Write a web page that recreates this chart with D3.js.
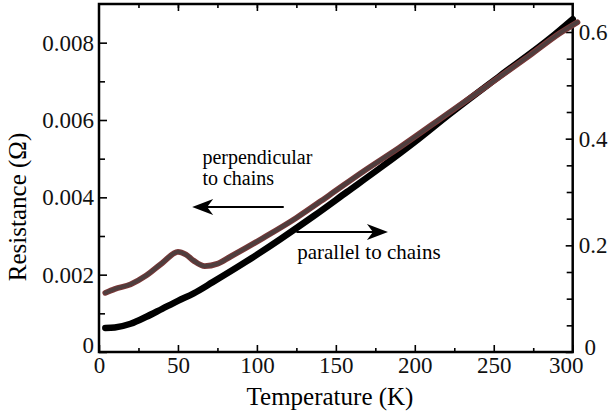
<!DOCTYPE html>
<html>
<head>
<meta charset="utf-8">
<script src="https://cdn.jsdelivr.net/npm/d3@7"></script>
<style>
  body { margin: 0; background: #fff; }
  svg { display: block; }
</style>
</head>
<body>
<div id="chart"></div>
<script>
// perpendicular to chains -> left axis (Ohm)
const tempPerp = [4, 10, 20, 30, 40, 50, 55, 60, 67, 75, 83, 104, 125, 146, 167, 190, 222, 244, 273, 292, 303];
const resPerp = [0.00153, 0.00163, 0.00175, 0.00198, 0.0023, 0.00259, 0.00252, 0.00236, 0.00222, 0.00228, 0.00246,
  0.00295, 0.00347, 0.00406, 0.00466, 0.00528, 0.0062, 0.00683, 0.00768, 0.00825, 0.00853];

// parallel to chains -> right axis
const tempPar = [4, 10, 20, 30, 40, 50, 60, 72, 94, 115, 136, 157, 178, 200, 222, 254, 286, 300];
const resPar = [0.045, 0.046, 0.053, 0.066, 0.081, 0.096, 0.110, 0.131, 0.171, 0.212, 0.255, 0.300, 0.345, 0.394,
  0.446, 0.518, 0.589, 0.624];

const xTicks = [0, 50, 100, 150, 200, 250, 300];
const leftTicks = [0, 0.002, 0.004, 0.006, 0.008];
const rightTicks = [0, 0.2, 0.4, 0.6];

var font = "'Liberation Serif', 'Times New Roman', serif";
var width = 610, height = 414;
var svg = d3.select("#chart").append("svg")
  .attr("width", width)
  .attr("height", height)
  .attr("font-family", font);

var x = d3.scaleLinear().domain([0, 300]).range([99, 572.7]);
var yL = d3.scaleLinear().domain([0, 0.009]).range([352, 4]);
var yR = d3.scaleLinear().domain([0, 0.6]).range([352, 32]);

// minor ticks first (no labels)
svg.append("g").attr("transform", "translate(0,352)")
  .call(d3.axisBottom(x).tickValues(d3.range(25, 300, 50)).tickSizeInner(-4).tickSizeOuter(0).tickFormat(""));
svg.append("g").attr("transform", "translate(0,4)")
  .call(d3.axisTop(x).tickValues(d3.range(25, 300, 25)).tickSizeInner(-4).tickSizeOuter(0).tickFormat(""));
svg.append("g").attr("transform", "translate(0,4)")
  .call(d3.axisTop(x).tickValues(d3.range(50, 300, 50)).tickSizeInner(-7).tickSizeOuter(0).tickFormat(""));
svg.append("g").attr("transform", "translate(99,0)")
  .call(d3.axisLeft(yL).tickValues(d3.range(0.001, 0.009, 0.002)).tickSizeInner(-6).tickSizeOuter(0).tickFormat(""));
svg.append("g").attr("transform", "translate(572.7,0)")
  .call(d3.axisRight(yR).tickValues([0.05, 0.1, 0.15, 0.25, 0.3, 0.35, 0.45, 0.5, 0.55]).tickSizeInner(-6).tickSizeOuter(0).tickFormat(""));

// bottom axis
var xAxis = svg.append("g").attr("transform", "translate(0,352)")
  .call(d3.axisBottom(x).tickValues(xTicks).tickSizeInner(-7).tickSizeOuter(0).tickPadding(5));
xAxis.selectAll("text").style("font-size", "23px")
  .attr("dx", d => d === 300 ? "-0.3em" : 0);

// left axis
var yAxisL = svg.append("g").attr("transform", "translate(99,0)")
  .call(d3.axisLeft(yL).tickValues(leftTicks).tickSizeInner(-8).tickSizeOuter(0).tickPadding(5)
    .tickFormat(d => d === 0 ? "0" : d.toFixed(3)));
yAxisL.selectAll("text").style("font-size", "23px")
  .attr("dy", d => d === 0 ? "0.02em" : "0.32em");

// right axis
var yAxisR = svg.append("g").attr("transform", "translate(572.7,0)")
  .call(d3.axisRight(yR).tickValues(rightTicks).tickSizeInner(-7).tickSizeOuter(0).tickPadding(6)
    .tickFormat(d => d === 0 ? "0" : d.toFixed(1)));
yAxisR.selectAll("text").style("font-size", "23px")
  .attr("dx", d => d === 0 ? "0.25em" : 0)
  .attr("dy", d => d === 0 ? "0.1em" : "0.32em");

svg.selectAll(".domain").remove();
svg.selectAll(".tick line").attr("stroke", "#000").attr("stroke-width", 1.6);
svg.selectAll("g").attr("font-family", font);
svg.selectAll(".tick text").attr("fill", "#111");

// frame
svg.append("rect")
  .attr("x", x(0)).attr("y", yL.range()[1])
  .attr("width", x(300) - x(0)).attr("height", yL.range()[0] - yL.range()[1])
  .attr("fill", "none").attr("stroke", "#000").attr("stroke-width", 2.5);

// axis titles
svg.append("text")
  .attr("x", 330).attr("y", 405)
  .attr("font-family", font)
  .style("text-anchor", "middle").style("font-size", "25px")
  .text("Temperature (K)");
svg.append("text")
  .attr("transform", "translate(26,207) rotate(-90)")
  .attr("font-family", font)
  .style("text-anchor", "middle").style("font-size", "25px")
  .text("Resistance (\u03A9)");

// curves
var linePar = d3.line()
  .x((d, i) => x(tempPar[i]))
  .y(d => yR(d))
  .curve(d3.curveMonotoneX);
var linePerp = d3.line()
  .x((d, i) => x(tempPerp[i]))
  .y(d => yL(d))
  .curve(d3.curveMonotoneX);

svg.append("path").datum(resPar)
  .attr("d", linePar).attr("fill", "none")
  .attr("stroke", "#000").attr("stroke-width", 6.5).attr("stroke-linecap", "round");

svg.append("path").datum(resPerp)
  .attr("d", linePerp).attr("fill", "none")
  .attr("stroke", "#7a3838").attr("stroke-width", 5.8).attr("stroke-linecap", "round");
svg.append("path").datum(resPerp)
  .attr("d", linePerp).attr("fill", "none")
  .attr("stroke", "#4f3e3e").attr("stroke-width", 3.8).attr("stroke-linecap", "round");

// arrows and labels
function arrow(x1, x2, y) {
  var dir = x2 > x1 ? 1 : -1;
  svg.append("line")
    .attr("x1", x1).attr("x2", x2 - dir * 12).attr("y1", y).attr("y2", y)
    .attr("stroke", "#000").attr("stroke-width", 2);
  var p = d3.path();
  p.moveTo(x2, y);
  p.lineTo(x2 - dir * 21, y - 8);
  p.lineTo(x2 - dir * 15, y);
  p.lineTo(x2 - dir * 21, y + 8);
  p.closePath();
  svg.append("path").attr("d", p.toString()).attr("fill", "#000");
}
arrow(x(117), x(59), yL(0.00375));
arrow(x(125), x(183), yR(0.225));

svg.append("text").attr("x", x(65.5)).attr("y", yL(0.00487))
  .attr("font-family", font).style("font-size", "20px").text("perpendicular");
svg.append("text").attr("x", x(65.5)).attr("y", yL(0.00432))
  .attr("font-family", font).style("font-size", "20px").text("to chains");
svg.append("text").attr("x", x(125.5)).attr("y", yR(0.175))
  .attr("font-family", font).style("font-size", "21px").text("parallel to chains");
</script>
</body>
</html>
